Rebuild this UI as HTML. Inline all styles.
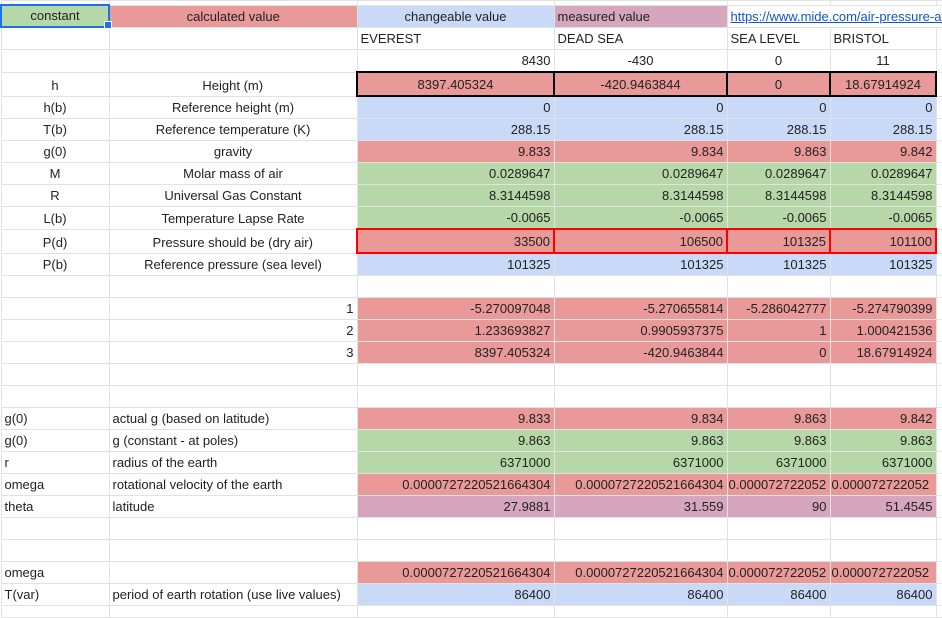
<!DOCTYPE html>
<html><head><meta charset="utf-8"><style>
body{margin:0;background:#fff;width:942px;height:616px;overflow:hidden;position:relative;font-family:"Liberation Sans",Arial,sans-serif;font-size:13px;color:#222}
table{position:absolute;left:0;top:0;border-collapse:collapse;table-layout:fixed;width:942px}
td{border:1px solid #e2e2e2;padding:0 3px;white-space:nowrap;overflow:hidden;line-height:14px;vertical-align:bottom;padding-bottom:3px}
.c{text-align:center}.r{text-align:right}.l{text-align:left}
.g{background:#b6d7a8}.rd{background:#ea9999}.b{background:#c9daf8}.p{background:#d5a6bd}
.hk td.v{border:2px solid #000}
.pd td.v{border:2px solid #f00}
a{color:#1155cc;text-decoration:underline}
</style></head><body>
<table>
<colgroup><col style="width:108px"><col style="width:248px"><col style="width:197px"><col style="width:173px"><col style="width:103px"><col style="width:106px"><col style="width:7px"></colgroup>
<tr style="height:2px"><td></td><td></td><td></td><td></td><td></td><td></td><td></td></tr>
<tr style="height:22px"><td class="c g" style="border:2px solid #1a73e8">constant</td><td class="c rd">calculated value</td><td class="c b">changeable value</td><td class="l p">measured value</td><td colspan="3" class="l"><a>https://www.mide.com/air-pressure-at-altitude-calculator</a></td></tr>
<tr style="height:22px"><td></td><td></td><td class="l">EVEREST</td><td class="l">DEAD SEA</td><td class="l">SEA LEVEL</td><td class="l">BRISTOL</td><td></td></tr>
<tr style="height:23px"><td></td><td></td><td class="r">8430</td><td class="c">-430</td><td class="c">0</td><td class="c">11</td><td></td></tr>
<tr style="height:24px" class="hk"><td class="c">h</td><td class="c">Height (m)</td><td class="c rd v">8397.405324</td><td class="c rd v">-420.9463844</td><td class="c rd v">0</td><td class="c rd v">18.67914924</td><td></td></tr>
<tr style="height:22px"><td class="c">h(b)</td><td class="c">Reference height (m)</td><td class="r b">0</td><td class="r b">0</td><td class="r b">0</td><td class="r b">0</td><td></td></tr>
<tr style="height:22px"><td class="c">T(b)</td><td class="c">Reference temperature (K)</td><td class="r b">288.15</td><td class="r b">288.15</td><td class="r b">288.15</td><td class="r b">288.15</td><td></td></tr>
<tr style="height:22px"><td class="c">g(0)</td><td class="c">gravity</td><td class="r rd">9.833</td><td class="r rd">9.834</td><td class="r rd">9.863</td><td class="r rd">9.842</td><td></td></tr>
<tr style="height:22px"><td class="c">M</td><td class="c">Molar mass of air</td><td class="r g">0.0289647</td><td class="r g">0.0289647</td><td class="r g">0.0289647</td><td class="r g">0.0289647</td><td></td></tr>
<tr style="height:22px"><td class="c">R</td><td class="c">Universal Gas Constant</td><td class="r g">8.3144598</td><td class="r g">8.3144598</td><td class="r g">8.3144598</td><td class="r g">8.3144598</td><td></td></tr>
<tr style="height:23px"><td class="c">L(b)</td><td class="c">Temperature Lapse Rate</td><td class="r g">-0.0065</td><td class="r g">-0.0065</td><td class="r g">-0.0065</td><td class="r g">-0.0065</td><td></td></tr>
<tr style="height:24px" class="pd"><td class="c">P(d)</td><td class="c">Pressure should be (dry air)</td><td class="r rd v">33500</td><td class="r rd v">106500</td><td class="r rd v">101325</td><td class="r rd v">101100</td><td></td></tr>
<tr style="height:22px"><td class="c">P(b)</td><td class="c">Reference pressure (sea level)</td><td class="r b">101325</td><td class="r b">101325</td><td class="r b">101325</td><td class="r b">101325</td><td></td></tr>
<tr style="height:22px"><td></td><td></td><td></td><td></td><td></td><td></td><td></td></tr>
<tr style="height:22px"><td></td><td class="r">1</td><td class="r rd">-5.270097048</td><td class="r rd">-5.270655814</td><td class="r rd">-5.286042777</td><td class="r rd">-5.274790399</td><td></td></tr>
<tr style="height:22px"><td></td><td class="r">2</td><td class="r rd">1.233693827</td><td class="r rd">0.9905937375</td><td class="r rd">1</td><td class="r rd">1.000421536</td><td></td></tr>
<tr style="height:22px"><td></td><td class="r">3</td><td class="r rd">8397.405324</td><td class="r rd">-420.9463844</td><td class="r rd">0</td><td class="r rd">18.67914924</td><td></td></tr>
<tr style="height:22px"><td></td><td></td><td></td><td></td><td></td><td></td><td></td></tr>
<tr style="height:22px"><td></td><td></td><td></td><td></td><td></td><td></td><td></td></tr>
<tr style="height:22px"><td class="l">g(0)</td><td class="l">actual g (based on latitude)</td><td class="r rd">9.833</td><td class="r rd">9.834</td><td class="r rd">9.863</td><td class="r rd">9.842</td><td></td></tr>
<tr style="height:22px"><td class="l">g(0)</td><td class="l">g (constant - at poles)</td><td class="r g">9.863</td><td class="r g">9.863</td><td class="r g">9.863</td><td class="r g">9.863</td><td></td></tr>
<tr style="height:22px"><td class="l">r</td><td class="l">radius of the earth</td><td class="r g">6371000</td><td class="r g">6371000</td><td class="r g">6371000</td><td class="r g">6371000</td><td></td></tr>
<tr style="height:22px"><td class="l">omega</td><td class="l">rotational velocity of the earth</td><td class="r rd">0.0000727220521664304</td><td class="r rd">0.0000727220521664304</td><td class="l rd" style="padding:0 0 3px 1px">0.000072722052</td><td class="l rd" style="padding:0 0 3px 1px">0.000072722052</td><td></td></tr>
<tr style="height:22px"><td class="l">theta</td><td class="l">latitude</td><td class="r p">27.9881</td><td class="r p">31.559</td><td class="r p">90</td><td class="r p">51.4545</td><td></td></tr>
<tr style="height:22px"><td></td><td></td><td></td><td></td><td></td><td></td><td></td></tr>
<tr style="height:22px"><td></td><td></td><td></td><td></td><td></td><td></td><td></td></tr>
<tr style="height:22px"><td class="l">omega</td><td></td><td class="r rd">0.0000727220521664304</td><td class="r rd">0.0000727220521664304</td><td class="l rd" style="padding:0 0 3px 1px">0.000072722052</td><td class="l rd" style="padding:0 0 3px 1px">0.000072722052</td><td></td></tr>
<tr style="height:22px"><td class="l">T(var)</td><td class="l">period of earth rotation (use live values)</td><td class="r b">86400</td><td class="r b">86400</td><td class="r b">86400</td><td class="r b">86400</td><td></td></tr>
<tr style="height:12px"><td></td><td></td><td></td><td></td><td></td><td></td><td></td></tr>
</table>
<div style="position:absolute;left:104px;top:21px;width:6px;height:6px;background:#1a73e8;border:1px solid #fff"></div>
</body></html>
